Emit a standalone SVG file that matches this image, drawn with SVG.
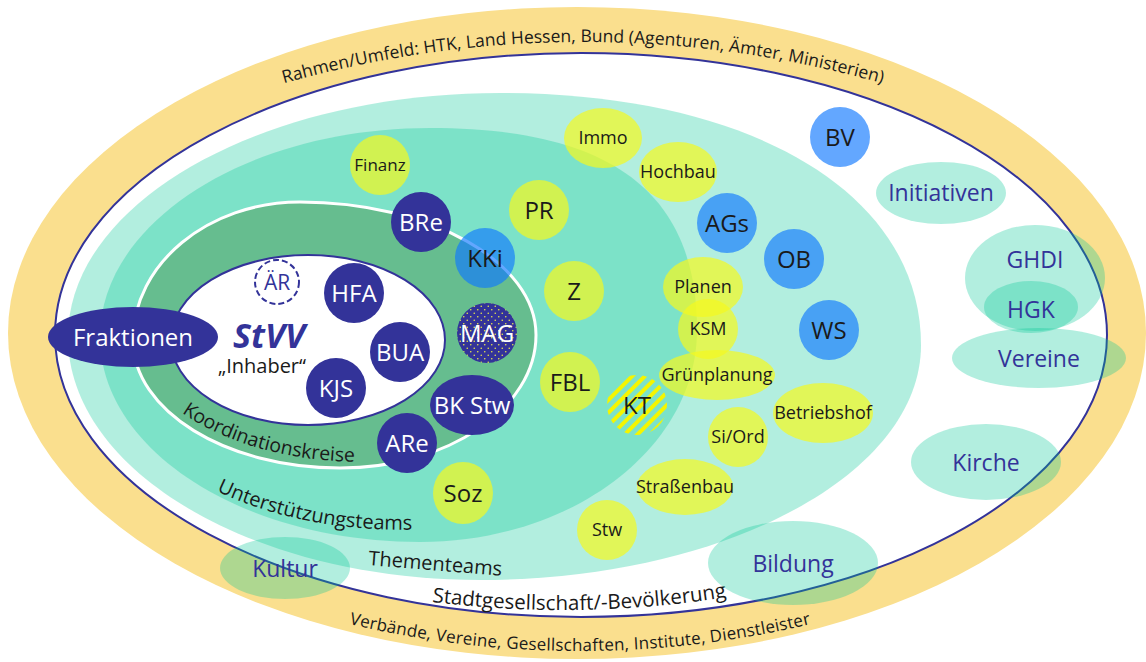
<svg xmlns="http://www.w3.org/2000/svg" width="1146" height="662" viewBox="0 0 1146 662">
<defs>
<style>
text{font-family:"Open Sans","Noto Sans","DejaVu Sans",sans-serif}
.c{text-anchor:middle}
.k{fill:#1a1a1a}
.w{fill:#ffffff}
.n{fill:#333399}
.f24{font-size:24px}
.f23{font-size:23px}
.f18{font-size:18px}
.nav{fill:#333399}
.aq{fill:#00c896;fill-opacity:.3}
.yl{fill:#f5fa1e;fill-opacity:.7}
.bl{fill:#0f78ff;fill-opacity:.65}
.ring{font-size:17.5px;fill:#1a1a1a}
</style>
<pattern id="dots" width="7" height="7" patternUnits="userSpaceOnUse">
<rect width="7" height="7" fill="#333399"/>
<circle cx="1.75" cy="1.75" r="0.8" fill="#e6e64a"/>
<circle cx="5.25" cy="5.25" r="0.8" fill="#e6e64a"/>
</pattern>
<pattern id="hatch" width="9" height="9" patternUnits="userSpaceOnUse" patternTransform="rotate(45)">
<rect x="0" y="0" width="4" height="9" fill="#f5f500"/>
</pattern>
<path id="pRahmen" d="M 230,100 A 1103,1103 0 0 1 936,100"/>
<path id="pVerb" d="M 300,611 A 1000,1000 0 0 0 860,611"/>
<path id="pStadt" d="M 432,602 A 1060,1060 0 0 0 800,583"/>
<path id="pUnter" d="M 190,477 A 307,195 0 0 0 560,501"/>
<path id="pKoord" d="M 160,395 A 236,142 0 0 0 480,442"/>
</defs>

<g id="umfeld">
<ellipse cx="577" cy="333" rx="569" ry="326" fill="#fadf8e"/>
<ellipse cx="581" cy="335" rx="526" ry="282" fill="#ffffff" stroke="#333399" stroke-width="2"/>
<text class="ring"><textPath href="#pRahmen" startOffset="50%" text-anchor="middle" textLength="606" lengthAdjust="spacing">Rahmen/Umfeld: HTK, Land Hessen, Bund (Agenturen, Ämter, Ministerien)</textPath></text>
<text class="ring" style="font-size:17px"><textPath href="#pVerb" startOffset="50%" text-anchor="middle" textLength="466" lengthAdjust="spacing">Verbände, Vereine, Gesellschaften, Institute, Dienstleister</textPath></text>
<text class="k" style="font-size:20.5px"><textPath href="#pStadt">Stadtgesellschaft/-Bevölkerung</textPath></text>
</g>

<g id="thementeams">
<path class="aq" d="M 68,337 C 68,202 262,93 500,93 C 753,93 921,194 921,345 C 921,475 723,580 480,580 C 253,580 68,471 68,337 Z"/>
<text class="k" x="368" y="565" style="font-size:20px" transform="rotate(4.6 368 565)">Thementeams</text>
</g>

<g id="unterstuetzungsteams">
<path class="aq" d="M 100,337 C 100,222 248,128 430,128 C 612,128 697,193 697,330 C 697,447 573,542 420,542 C 243,542 100,450 100,337 Z"/>
<text class="k" style="font-size:20px"><textPath href="#pUnter" startOffset="30">Unterstützungsteams</textPath></text>
</g>

<g id="koordinationskreise">
<path d="M 133,340 C 133,264 208,202 300,202 C 430,202 536,262 536,335 C 536,408 448,468 340,468 C 226,468 133,411 133,340 Z" fill="#66bd8f" stroke="#ffffff" stroke-width="3"/>
<text class="k" style="font-size:19.5px"><textPath href="#pKoord" startOffset="28">Koordinationskreise</textPath></text>
</g>

<g id="stvv">
<ellipse cx="308" cy="340" rx="137" ry="85" fill="#ffffff" stroke="#333399" stroke-width="2"/>
<text class="c n" x="269" y="348" style="font-size:34px;font-weight:bold;font-style:italic">StVV</text>
<text class="c k" x="262" y="373" style="font-size:20px">„Inhaber“</text>
</g>

<g id="connectors"></g>

<g id="node-fraktionen"><ellipse class="nav" cx="133" cy="337" rx="85" ry="30"/><text class="c w f24" x="133" y="346">Fraktionen</text></g>
<g id="node-aer"><circle cx="277" cy="282" r="22" fill="#ffffff" stroke="#333399" stroke-width="2" stroke-dasharray="6 3"/><text class="c n" x="277" y="290" style="font-size:21px">ÄR</text></g>
<g id="node-hfa"><circle class="nav" cx="354" cy="293" r="30"/><text class="c w f24" x="354" y="302">HFA</text></g>
<g id="node-bua"><circle class="nav" cx="400" cy="352" r="30"/><text class="c w f24" x="400" y="361">BUA</text></g>
<g id="node-kjs"><circle class="nav" cx="336" cy="388" r="30"/><text class="c w f24" x="336" y="397">KJS</text></g>
<g id="node-bre"><circle class="nav" cx="421" cy="222" r="30"/><text class="c w f24" x="421" y="231">BRe</text></g>
<g id="node-kki"><circle class="bl" cx="485" cy="258" r="30"/><text class="c k f24" x="485" y="267">KKi</text></g>
<g id="node-mag"><circle cx="487" cy="333" r="30" fill="url(#dots)"/><text class="c w f24" x="487" y="342">MAG</text></g>
<g id="node-bkstw"><ellipse class="nav" cx="472" cy="405" rx="42" ry="30"/><text class="c w f24" x="472" y="414">BK Stw</text></g>
<g id="node-are"><circle class="nav" cx="407" cy="443" r="30"/><text class="c w f24" x="407" y="452">ARe</text></g>

<g id="node-finanz"><circle class="yl" cx="380" cy="165" r="30"/><text class="c k" x="380" y="171" style="font-size:17px">Finanz</text></g>
<g id="node-pr"><circle class="yl" cx="539" cy="210" r="30"/><text class="c k f24" x="539" y="219">PR</text></g>
<g id="node-z"><circle class="yl" cx="574" cy="291" r="30"/><text class="c k f24" x="574" y="300">Z</text></g>
<g id="node-fbl"><circle class="yl" cx="570" cy="382" r="30"/><text class="c k f24" x="570" y="391">FBL</text></g>
<g id="node-soz"><ellipse class="yl" cx="463" cy="493" rx="30" ry="31"/><text class="c k f24" x="463" y="502">Soz</text></g>
<g id="node-kt"><circle cx="637" cy="405" r="30" fill="url(#hatch)"/><text class="c k f24" x="637" y="414">KT</text></g>

<g id="node-immo"><ellipse class="yl" cx="603" cy="138" rx="39" ry="30"/><text class="c k f18" x="603" y="144">Immo</text></g>
<g id="node-hochbau"><ellipse class="yl" cx="678" cy="172" rx="39" ry="30"/><text class="c k f18" x="678" y="178">Hochbau</text></g>
<g id="node-planen"><ellipse class="yl" cx="703" cy="287" rx="40" ry="30"/><text class="c k f18" x="703" y="293">Planen</text></g>
<g id="node-ksm"><circle class="yl" cx="708" cy="329" r="30"/><text class="c k f18" x="708" y="335">KSM</text></g>
<g id="node-gruenplanung"><ellipse class="yl" cx="717" cy="375" rx="58" ry="25"/><text class="c k f18" x="717" y="381">Grünplanung</text></g>
<g id="node-betriebshof"><ellipse class="yl" cx="823" cy="413" rx="50" ry="30"/><text class="c k f18" x="823" y="419">Betriebshof</text></g>
<g id="node-siord"><circle class="yl" cx="738" cy="437" r="30"/><text class="c k f18" x="738" y="443">Si/Ord</text></g>
<g id="node-strassenbau"><ellipse class="yl" cx="685" cy="487" rx="48" ry="28"/><text class="c k f18" x="685" y="493">Straßenbau</text></g>
<g id="node-stw"><circle class="yl" cx="607" cy="530" r="30"/><text class="c k f18" x="607" y="536">Stw</text></g>

<g id="node-ags"><circle class="bl" cx="727" cy="223" r="30"/><text class="c k f24" x="727" y="232">AGs</text></g>
<g id="node-ob"><circle class="bl" cx="794" cy="259" r="30"/><text class="c k f24" x="794" y="268">OB</text></g>
<g id="node-ws"><circle class="bl" cx="829" cy="330" r="30"/><text class="c k f24" x="829" y="339">WS</text></g>
<g id="node-bv"><circle class="bl" cx="840" cy="137" r="30"/><text class="c k f24" x="840" y="146">BV</text></g>

<g id="node-initiativen"><ellipse class="aq" cx="941" cy="193" rx="65" ry="31"/><text class="c n f23" x="941" y="201">Initiativen</text></g>
<g id="node-ghdi"><ellipse class="aq" cx="1035" cy="278" rx="70" ry="53"/><text class="c n f23" x="1035" y="268">GHDI</text></g>
<g id="node-hgk"><ellipse class="aq" cx="1031" cy="307" rx="47" ry="26"/><text class="c n f23" x="1031" y="318">HGK</text></g>
<g id="node-vereine"><ellipse class="aq" cx="1039" cy="358" rx="87" ry="30"/><text class="c n f23" x="1039" y="367">Vereine</text></g>
<g id="node-kirche"><ellipse class="aq" cx="986" cy="462" rx="75" ry="38"/><text class="c n f23" x="986" y="471">Kirche</text></g>
<g id="node-bildung"><ellipse class="aq" cx="793" cy="563" rx="85" ry="42"/><text class="c n f23" x="793" y="572">Bildung</text></g>
<g id="node-kultur"><ellipse class="aq" cx="285" cy="568" rx="65" ry="31"/><text class="c n f23" x="285" y="577">Kultur</text></g>
</svg>
